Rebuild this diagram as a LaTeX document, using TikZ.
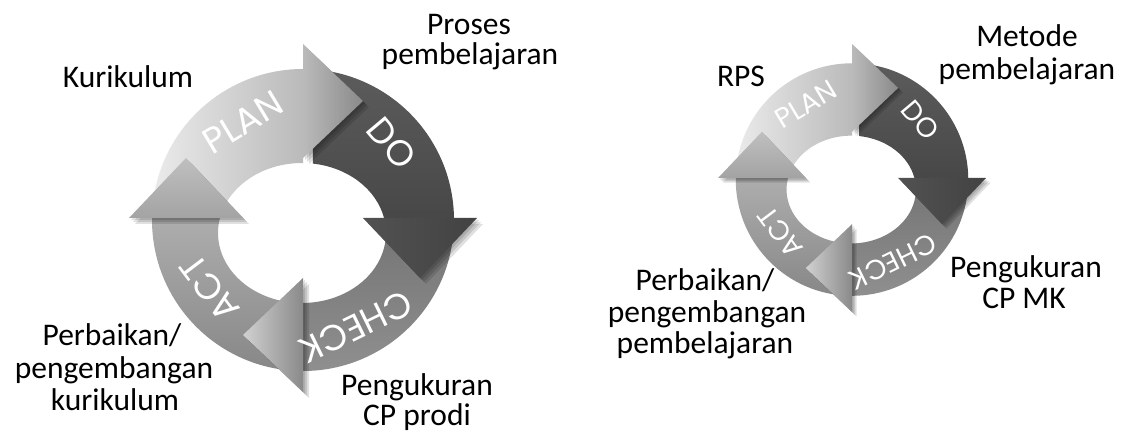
\documentclass[tikz,border=0pt]{standalone}
\usepackage{fontspec}
\setmainfont{Carlito}
\newfontfamily\pdcafont{Poppins}
\newcommand\lblfont{\fontsize{31.5}{32}\selectfont}
\newcommand\arrfont{\pdcafont\fontsize{36}{36}\selectfont}
\tikzset{
  lbl/.style={font=\lblfont, text=black, inner sep=0pt, anchor=base},
  arrlbl/.style={font=\arrfont, text=white, inner sep=0pt},
  headshadow/.style={fill=black, opacity=0.12},
}
\newcommand\pdcaring[4]{%
\begin{scope}[shift={(#1,#2)},scale=#3,transform shape]
  % bodies
  \shade[left color=black!8,right color=black!27]
    ([shift={(0,-2)}]175.4:151) arc[start angle=175.4,end angle=90,radius=151]
    -- ([shift={(-1,-15)}]89.3:84 and 70) arc[start angle=89.3,end angle=159,x radius=84,y radius=70] -- cycle;
  \shade[top color=black!64,bottom color=black!72]
    ([shift={(0,-2)}]86.2:151) arc[start angle=86.2,end angle=0.76,radius=151]
    -- ([shift={(-1,-15)}]12.4:84 and 70) arc[start angle=12.4,end angle=82.5,x radius=84,y radius=70] -- cycle;
  \shade[top color=black!54,bottom color=black!44]
    ([shift={(0,-2)}]-3.04:151) arc[start angle=-3.04,end angle=-90,radius=151]
    -- ([shift={(-1,-15)}]-89.3:84 and 70) arc[start angle=-89.3,end angle=4.1,x radius=84,y radius=70] -- cycle;
  \shade[top color=black!32,bottom color=black!47]
    ([shift={(0,-2)}]-93.8:151) arc[start angle=-93.8,end angle=-180.76,radius=151]
    -- ([shift={(-1,-15)}]-192.4:84 and 70) arc[start angle=-192.4,end angle=-96.1,x radius=84,y radius=70] -- cycle;
  % shadows of the heads
  \foreach \s in {2,4,6}{
    \fill[headshadow] ([shift={(\s,-\s)}]0,60) -- ([shift={(\s,-\s)}]0,174) -- ([shift={(\s,-\s)}]60,117) -- cycle;
    \fill[headshadow] ([shift={(\s,-\s)}]60,0) -- ([shift={(\s,-\s)}]174,0) -- ([shift={(\s,-\s)}]117,-60) -- cycle;
    \fill[headshadow] ([shift={(\s,-\s)}]0,-60) -- ([shift={(\s,-\s)}]0,-174) -- ([shift={(\s,-\s)}]-60,-117) -- cycle;
    \fill[headshadow] ([shift={(\s,-\s)}]-60,0) -- ([shift={(\s,-\s)}]-174,0) -- ([shift={(\s,-\s)}]-117,60) -- cycle;
  }
  % heads
  \shade[left color=black!27,right color=black!46] (0,60) -- (0,174) -- (60,117) -- cycle;
  \shade[left color=black!68,right color=black!74] (60,0) -- (174,0) -- (117,-60) -- cycle;
  \shade[left color=black!18,right color=black!46] (0,-60) -- (0,-174) -- (-60,-117) -- cycle;
  \shade[top color=black!25,bottom color=black!36] (-60,0) -- (-174,0) -- (-117,60) -- cycle;
  % labels on the arrows
  \node[arrlbl,rotate=31]   (#4plan)  at (122:113) {PLAN};
  \node[arrlbl,rotate=-50]  (#4do)    at (40:116)  {DO};
  \node[arrlbl,rotate=-154] (#4check) at (-64:121) {CHECK};
  \node[arrlbl,rotate=127]  (#4act)   at (217:117) {ACT};
\end{scope}}
\begin{document}
\begin{tikzpicture}[x=1pt,y=1pt]
\useasboundingbox (0,0) rectangle (1127,437);
\fill[white] (0,0) rectangle (1127,437);

\pdcaring{303}{219}{1}{l}
\pdcaring{852}{259}{0.77}{r}

% left labels
\node[lbl] (lkur)  at (128,349) {Kurikulum};
\node[lbl] (lpro1) at (469,402) {Proses};
\node[lbl] (lpro2) at (470,372) {pembelajaran};
\node[lbl] (lper1) at (112,92)  {Perbaikan/};
\node[lbl] (lper2) at (114,59)  {pengembangan};
\node[lbl] (lper3) at (115,27)  {kurikulum};
\node[lbl] (lpen1) at (417,42)  {Pengukuran};
\node[lbl] (lpen2) at (417,12)  {CP prodi};

% right labels
\node[lbl] (rrps)  at (741,350)  {RPS};
\node[lbl] (rmet1) at (1027,390) {Metode};
\node[lbl] (rmet2) at (1027,357) {pembelajaran};
\node[lbl] (rpen1) at (1026,160) {Pengukuran};
\node[lbl] (rpen2) at (1024,129) {CP MK};
\node[lbl] (rper1) at (705,147)  {Perbaikan/};
\node[lbl] (rper2) at (707,115)  {pengembangan};
\node[lbl] (rper3) at (705,84)   {pembelajaran};
\end{tikzpicture}
\end{document}
